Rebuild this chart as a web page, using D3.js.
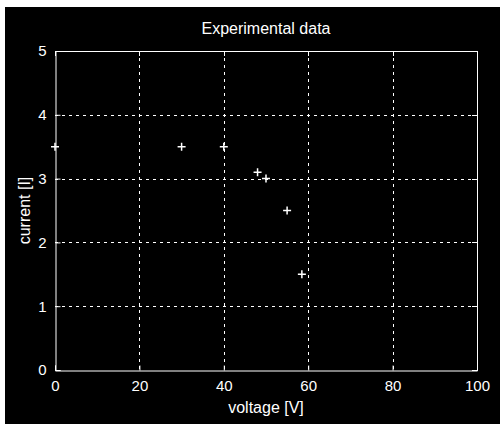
<!DOCTYPE html>
<html>
<head>
<meta charset="utf-8">
<script src="https://cdn.jsdelivr.net/npm/d3@7"></script>
<style>
  html, body { margin: 0; padding: 0; background: #fff; }
  svg { display: block; }
  text { font-family: "Liberation Sans", Arial, sans-serif; fill: #fff; }
</style>
</head>
<body>
<svg id="chart" width="500" height="424"></svg>
<script>
// Measured voltage / current pairs
const voltage = [0, 30, 40, 48, 50, 55, 58.5];
const current = [3.5, 3.5, 3.5, 3.1, 3.0, 2.5, 1.5];

const xTicks = [0, 20, 40, 60, 80, 100];
const yTicks = [0, 1, 2, 3, 4, 5];

const titleText = "Experimental data";
const xLabelText = "voltage [V]";
const yLabelText = "current [I]";

const svg = d3.select("#chart");

// black figure background
svg.append("rect")
  .attr("x", 5).attr("y", 7)
  .attr("width", 495).attr("height", 417)
  .attr("fill", "#000");

const plot = { left: 55, right: 477, top: 51, bottom: 370 };

const x = d3.scaleLinear().domain([0, 100]).range([plot.left, plot.right]);
const y = d3.scaleLinear().domain([0, 5]).range([plot.bottom, plot.top]);

// dotted grid
const grid = svg.append("g")
  .attr("stroke", "#fff")
  .attr("stroke-width", 1)
  .attr("stroke-dasharray", "3,4");

grid.selectAll("line.gx")
  .data(xTicks.slice(1, -1))
  .join("line")
  .attr("x1", d => Math.round(x(d)) + 0.5)
  .attr("x2", d => Math.round(x(d)) + 0.5)
  .attr("y1", plot.top)
  .attr("y2", plot.bottom);

grid.selectAll("line.gy")
  .data(yTicks.slice(1, -1))
  .join("line")
  .attr("x1", plot.left)
  .attr("x2", plot.right)
  .attr("y1", d => Math.round(y(d)) + 0.5)
  .attr("y2", d => Math.round(y(d)) + 0.5);

// axes with inward ticks
const fmt = d3.format("d");
const xAxis = svg.append("g")
  .attr("transform", `translate(0,${plot.bottom + 0.5})`)
  .call(d3.axisBottom(x).tickValues(xTicks).tickFormat(fmt).tickSize(-5).tickPadding(10));
const yAxis = svg.append("g")
  .attr("transform", `translate(${plot.left + 0.5},0)`)
  .call(d3.axisLeft(y).tickValues(yTicks).tickFormat(fmt).tickSize(-5).tickPadding(9));

[xAxis, yAxis].forEach(a => {
  a.selectAll("path, line").attr("stroke", "#fff");
  a.selectAll("text")
    .attr("fill", "#fff")
    .style("font-family", '"Liberation Sans", Arial, sans-serif')
    .style("font-size", "15px");
});

// top and right edges of the box with inward ticks
const box = svg.append("g").attr("stroke", "#fff").attr("stroke-width", 1);
box.append("line")
  .attr("x1", plot.left).attr("x2", plot.right)
  .attr("y1", plot.top + 0.5).attr("y2", plot.top + 0.5);
box.append("line")
  .attr("x1", plot.right + 0.5).attr("x2", plot.right + 0.5)
  .attr("y1", plot.top).attr("y2", plot.bottom);
box.selectAll("line.tt").data(xTicks).join("line")
  .attr("x1", d => Math.round(x(d)) + 0.5).attr("x2", d => Math.round(x(d)) + 0.5)
  .attr("y1", plot.top).attr("y2", plot.top + 5);
box.selectAll("line.rt").data(yTicks).join("line")
  .attr("x1", plot.right - 5).attr("x2", plot.right)
  .attr("y1", d => Math.round(y(d)) + 0.5).attr("y2", d => Math.round(y(d)) + 0.5);

// '+' markers for each measurement
const pts = voltage.map((v, i) => ({ v, c: current[i] }));
const m = 4;
const marks = svg.append("g").attr("stroke", "#fff").attr("stroke-width", 1.5);
marks.selectAll("path")
  .data(pts)
  .join("path")
  .attr("d", d => {
    const cx = x(d.v), cy = y(d.c);
    return `M${cx - m},${cy}H${cx + m}M${cx},${cy - m}V${cy + m}`;
  });

// title and axis labels
svg.append("text")
  .attr("x", (plot.left + plot.right) / 2)
  .attr("y", 34)
  .attr("text-anchor", "middle")
  .style("font-size", "16px")
  .text(titleText);

svg.append("text")
  .attr("x", (plot.left + plot.right) / 2)
  .attr("y", 413)
  .attr("text-anchor", "middle")
  .style("font-size", "16px")
  .text(xLabelText);

svg.append("text")
  .attr("transform", `translate(30,${(plot.top + plot.bottom) / 2}) rotate(-90)`)
  .attr("text-anchor", "middle")
  .style("font-size", "16px")
  .text(yLabelText);
</script>
</body>
</html>
